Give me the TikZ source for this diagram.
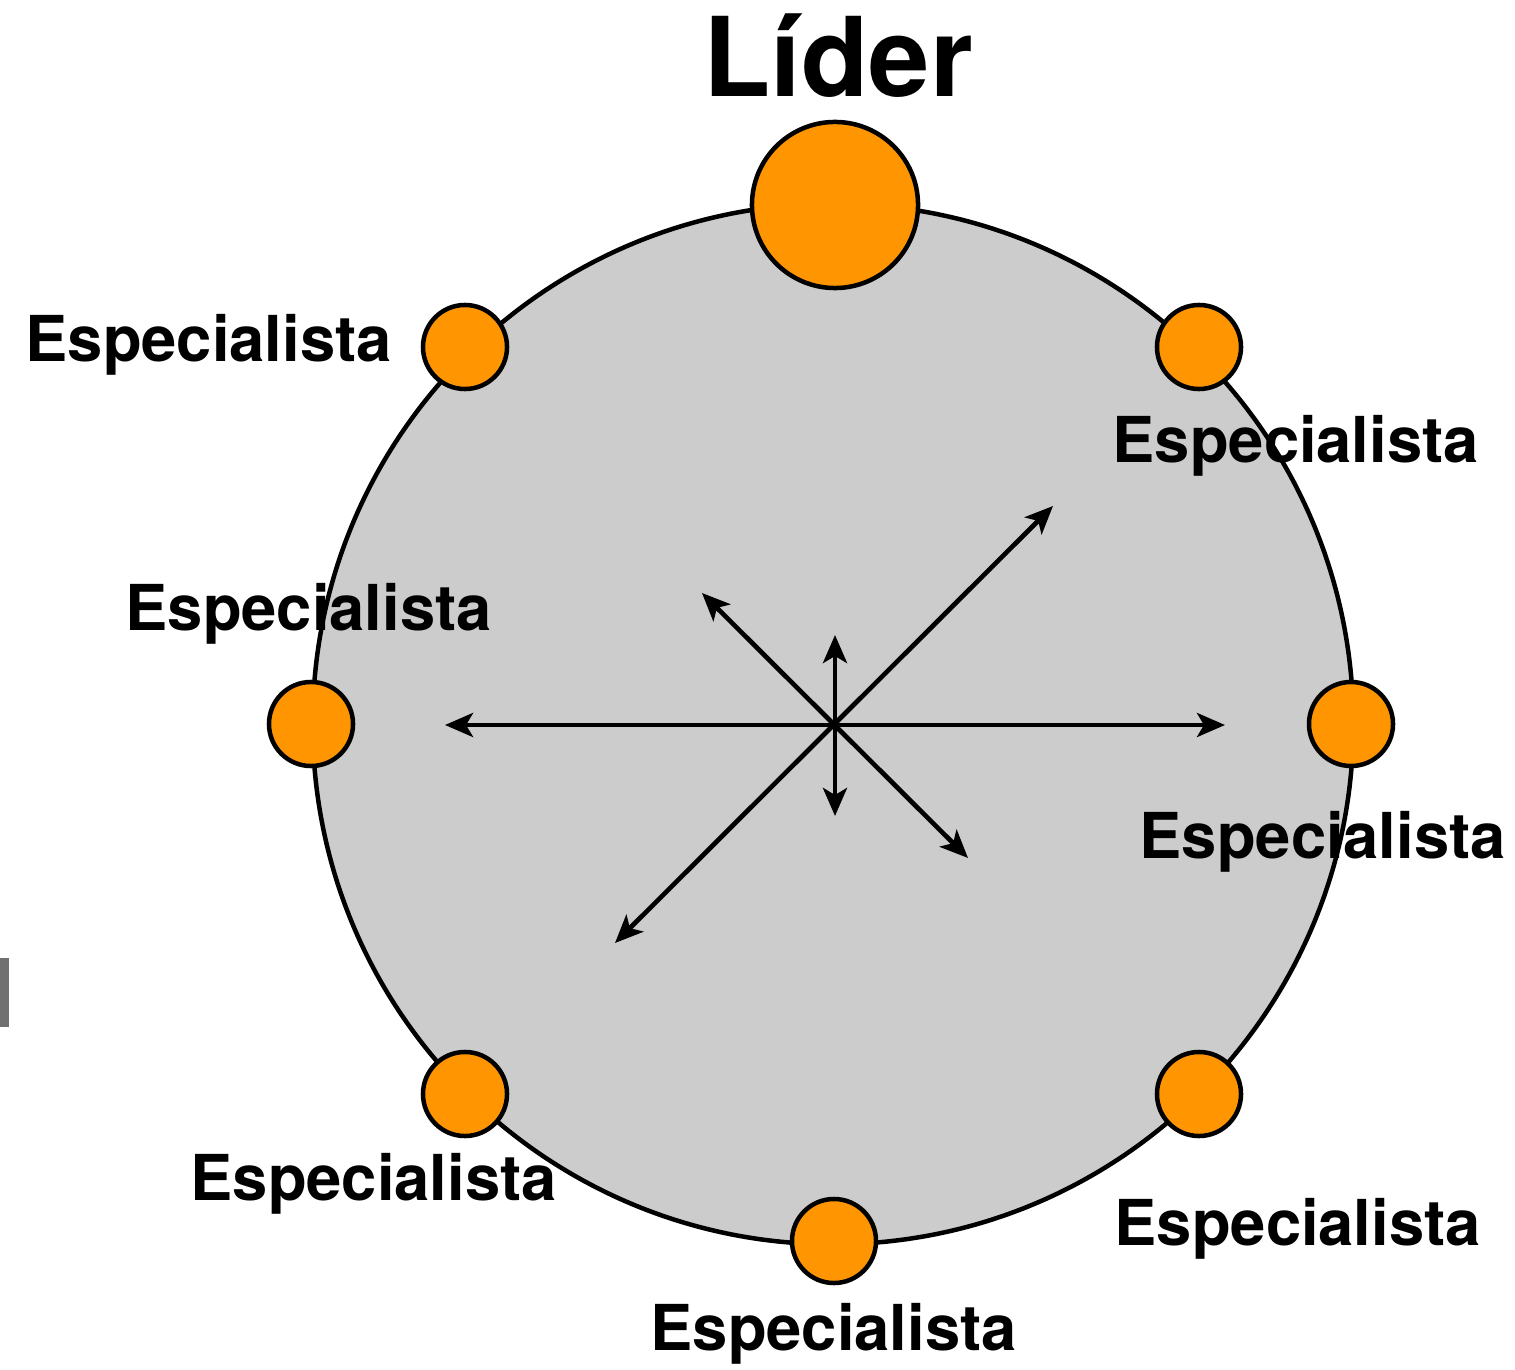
\documentclass[tikz,border=0pt]{standalone}
\usepackage{fontspec}
\setmainfont{TeX Gyre Heros}
\usetikzlibrary{arrows.meta}
\definecolor{ringgray}{HTML}{CCCCCC}
\definecolor{dotorange}{HTML}{FF9500}
\definecolor{bargray}{HTML}{707070}
\tikzset{
  ring/.style={circle, draw=black, line width=0.045cm, fill=ringgray, minimum size=10.4cm, inner sep=0pt},
  dot/.style={circle, draw=black, line width=0.045cm, fill=dotorange, minimum size=0.84cm, inner sep=0pt},
  bigdot/.style={circle, draw=black, line width=0.045cm, fill=dotorange, minimum size=1.66cm, inner sep=0pt},
  lbl/.style={anchor=base west, inner sep=0pt, font=\fontsize{18}{20}\selectfont\bfseries},
  ttl/.style={anchor=base west, inner sep=0pt, font=\fontsize{31.3}{34}\selectfont\bfseries},
  dart/.style={line width=0.047cm, {Stealth[length=0.28cm,width=0.24cm,inset=0.07cm]}-{Stealth[length=0.28cm,width=0.24cm,inset=0.07cm]}}
}
\begin{document}
\begin{tikzpicture}[x=0.01cm,y=-0.01cm]
\useasboundingbox (0,0) rectangle (1515,1370);
\fill[bargray] (0,958) rectangle (9,1027);
\node[ring] (ring) at (833,724) {};
% arrow tips
\coordinate (w) at (445,725);
\coordinate (e) at (1225,725);
\coordinate (n) at (835,635);
\coordinate (s) at (835,816);
\coordinate (ne) at (1053,506);
\coordinate (sw) at (615,943);
\coordinate (nw) at (702,593);
\coordinate (se) at (968,858);
\draw[dart] (w) -- (e);
\draw[dart] (n) -- (s);
\draw[dart] (sw) -- (ne);
\draw[dart] (nw) -- (se);
% dots
\node[bigdot] (lead) at (835,205) {};
\node[dot] (d1) at (465,347) {};
\node[dot] (d2) at (1199,347) {};
\node[dot] (d3) at (311,724) {};
\node[dot] (d4) at (1351,724) {};
\node[dot] (d5) at (465,1094) {};
\node[dot] (d6) at (1199,1094) {};
\node[dot] (d7) at (834,1241) {};
% labels
\node[ttl] (tl) at (703,97) {Líder};
\node[lbl] (l1) at (25,362) {Especialista};
\node[lbl] (l2) at (1112,463) {Especialista};
\node[lbl] (l3) at (125,630) {Especialista};
\node[lbl] (l4) at (1139,858) {Especialista};
\node[lbl] (l5) at (190,1200) {Especialista};
\node[lbl] (l6) at (1114,1245) {Especialista};
\node[lbl] (l7) at (650,1350) {Especialista};
\end{tikzpicture}
\end{document}
